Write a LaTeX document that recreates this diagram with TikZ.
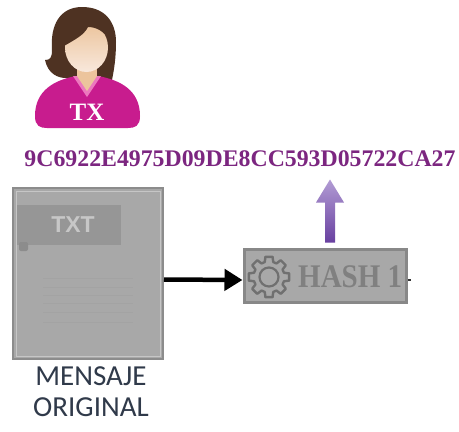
\documentclass[tikz,border=0pt]{standalone}
\usepackage{fontspec}
\newfontfamily\hashfont{Liberation Serif}
\newfontfamily\labelfont{Carlito}
\newfontfamily\tabfont{Liberation Sans}
\usetikzlibrary{arrows.meta,calc}

\definecolor{hair}{RGB}{78,50,34}
\definecolor{skin}{RGB}{236,196,156}
\definecolor{skinlight}{RGB}{248,232,220}
\definecolor{shirt}{RGB}{200,28,142}
\definecolor{collar}{RGB}{236,120,190}
\definecolor{hashpurple}{RGB}{124,38,128}
\definecolor{labelgray}{RGB}{48,58,74}
\definecolor{paper}{RGB}{168,168,168}
\definecolor{paperedge}{RGB}{140,140,140}
\definecolor{tabgray}{RGB}{150,150,150}
\definecolor{boxedge}{RGB}{136,136,136}
\definecolor{gearline}{RGB}{112,112,112}
\definecolor{arrowtop}{RGB}{178,156,212}
\definecolor{arrowbot}{RGB}{104,64,160}

\tikzset{
  docbox/.style={draw=paperedge, fill=paper, line width=2pt, minimum width=150pt, minimum height=171pt, inner sep=0pt},
  hashbox/.style={draw=boxedge, fill=paper, line width=3pt, minimum width=162pt, minimum height=53pt, inner sep=0pt},
  textline/.style={draw=black!36, line width=0.7pt},
  flow/.style={line width=4.5pt, -{Triangle[length=18pt,width=21pt]}},
}

\begin{document}
\begin{tikzpicture}[x=1pt,y=-1pt]
\useasboundingbox (0,0) rectangle (459,432);
\fill[white] (0,0) rectangle (459,432);

% --- sender avatar ---
\fill[hair] (82,7) .. controls (105,7) and (116,22) .. (116,42)
  .. controls (116,58) and (114,70) .. (112,80) -- (66,78)
  .. controls (58,78) and (48,74) .. (45,60)
  .. controls (50,60) and (52,58) .. (52,50)
  .. controls (50,25) and (60,7) .. (82,7) -- cycle;
\fill[skin] (77,62) rectangle (97,84);
\fill[shirt] (35,116) .. controls (35,90) and (55,80) .. (76,76) -- (98,76)
  .. controls (120,80) and (140,90) .. (140,116)
  .. controls (140,126) and (135,128) .. (128,128) -- (47,128)
  .. controls (40,128) and (35,126) .. (35,116) -- cycle;
\fill[collar] (73,76) -- (87,97) -- (101,76) -- cycle;
\fill[skin] (77,76) -- (87,91) -- (97,76) -- cycle;
\shade[top color=skin, bottom color=skinlight] (86.5,47.5) ellipse (21.5 and 24.5);
\fill[hair] (64,46) .. controls (66,30) and (75,19) .. (90,19)
  .. controls (100,19) and (108,27) .. (109,40)
  .. controls (104,31) and (96,27) .. (88,27)
  .. controls (84,35) and (76,39) .. (64,46) -- cycle;
\node[text=white, font=\hashfont\bfseries\fontsize{25}{25}\selectfont, inner sep=0pt] (tx) at (87,112) {TX};

% --- hash value ---
\node[text=hashpurple, font=\hashfont\bfseries\fontsize{23.8}{24}\selectfont, inner sep=0pt] (hashval) at (240,159) {9C6922E4975D09DE8CC593D05722CA27};

% --- original message document ---
\node[docbox] (doc) at (88,273.5) {};
\draw[white!35!paper, line width=1pt] (16,191) rectangle (160,356);
\fill[tabgray] (17,205) rectangle (121,245);
\fill[black!45, rounded corners=2pt] (19,242) rectangle (28,251);
\node[text=black!22, font=\tabfont\bfseries\fontsize{23}{23}\selectfont, inner sep=0pt] (tab) at (73,225) {TXT};
\foreach \yy in {278,287,295,303,312,322}
  \draw[textline] (43,\yy) -- (133,\yy);
\node[text=labelgray, font=\labelfont\fontsize{29}{31}\selectfont, align=center, inner sep=0pt] (label) at (91,392) {MENSAJE\\ORIGINAL};

% --- hash function box ---
\node[hashbox] (hbox) at (325,275.5) {};
\coordinate (g) at (269,277);
\draw[gearline, line width=2.4pt, line join=round] (g) +(-10:20.5)
  \foreach \a in {0,45,...,315}{ -- +(\a-10:20.5) -- +(\a+10:20.5) -- +(\a+16:15.5) -- +(\a+29:15.5) } -- cycle;
\draw[gearline, line width=2.2pt] (g) circle (9.5);
\node[text=black!50, font=\hashfont\bfseries\fontsize{33}{33}\selectfont, inner sep=0pt, anchor=west, xscale=0.88] (hname) at (298,276.5) {HASH 1};

% --- connectors ---
\draw[flow] ([yshift=-6pt]doc.east) -- ([yshift=-4.5pt]hbox.west);
\draw[black!80, line width=2pt] ([yshift=-4pt]hbox.east) -- ++(3,0);
\coordinate (up0) at ($(hbox.north)+(5,-5)$);
\shade[top color=arrowtop, bottom color=arrowbot]
  ($(up0)+(-5,0)$) -- ($(up0)+(-5,-40)$) -- ($(up0)+(-14,-40)$) -- ($(up0)+(0,-63)$)
  -- ($(up0)+(14,-40)$) -- ($(up0)+(5,-40)$) -- ($(up0)+(5,0)$) -- cycle;
\end{tikzpicture}
\end{document}
